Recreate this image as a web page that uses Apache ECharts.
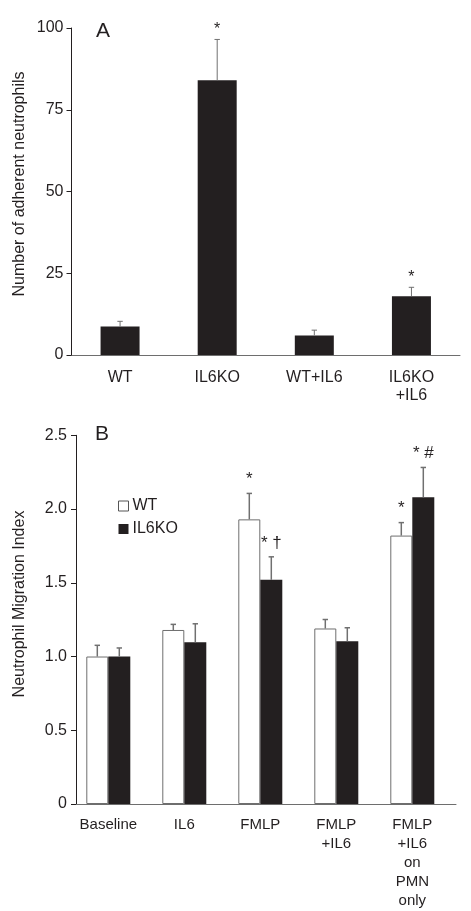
<!DOCTYPE html>
<html>
<head>
<meta charset="utf-8">
<script src="https://cdn.jsdelivr.net/npm/echarts@6/dist/echarts.min.js"></script>
<style>
html,body{margin:0;padding:0;background:#fff;}
#chart{width:471px;height:911px;}
</style>
</head>
<body>
<div id="chart"></div>
<script>
// ---------- Data ----------
const catA = ['WT', 'IL6KO', 'WT+IL6', 'IL6KO\n+IL6'];
const valA = [8.7, 84.0, 6.0, 18.0];
const errA = [1.6, 12.5, 1.6, 2.7];
const sigA = ['', '*', '', '*'];
const ticksA = [0, 25, 50, 75, 100];

const catB = ['Baseline', 'IL6', 'FMLP', 'FMLP\n+IL6', 'FMLP\n+IL6\non\nPMN\nonly'];
const wtB = [1.0, 1.18, 1.93, 1.19, 1.82];
const wtErrB = [0.076, 0.038, 0.176, 0.061, 0.088];
const koB = [1.0, 1.096, 1.52, 1.103, 2.08];
const koErrB = [0.058, 0.126, 0.156, 0.092, 0.202];
const wtSigB = ['', '', '*', '', '*'];
const koSigB = ['', '', '* \u2020', '', '* #'];
const ticksB = [0, 0.5, 1.0, 1.5, 2.0, 2.5];

// ---------- Styles ----------
const FONT = 'Liberation Sans, Arial, sans-serif';
const INK = '#231f20';
const AXIS = '#6e6e6e';
const ERR = '#707070';
const barWB = 22;

function errRender(sigs, offset, lw, sigOffset, sigSize) {
  return function (params, api) {
    const i = api.value(0), v = api.value(1), e = api.value(2);
    const s = sigs[params.dataIndex];
    const p0 = api.coord([i, v]);
    const p1 = api.coord([i, v + e]);
    const cx = p0[0] + offset;
    const children = [
      {type: 'line', shape: {x1: cx, y1: p0[1], x2: cx, y2: p1[1]}, style: {stroke: ERR, lineWidth: lw}},
      {type: 'line', shape: {x1: cx - 2.7, y1: p1[1], x2: cx + 2.7, y2: p1[1]}, style: {stroke: ERR, lineWidth: lw}}
    ];
    if (s) {
      children.push({type: 'text', x: cx, y: p1[1] - sigOffset,
        style: {text: s, fill: INK, font: sigSize + 'px ' + FONT, align: 'center', verticalAlign: 'middle'}});
    }
    return {type: 'group', children: children};
  };
}

const chart = echarts.init(document.getElementById('chart'), null, {renderer: 'canvas'});

const option = {
  backgroundColor: '#fff',
  animation: false,
  textStyle: {fontFamily: FONT, color: INK},
  grid: [
    {left: 71.5, width: 388.5, top: 28, height: 327},       // A
    {left: 70.3, width: 380, top: 435.3, height: 368.7},    // B bars
    {left: 76, width: 380, top: 435.3, height: 368.7}       // B axes
  ],
  xAxis: [
    {gridIndex: 0, type: 'category', data: catA,
      axisLine: {lineStyle: {color: AXIS, width: 1}}, axisTick: {show: false},
      axisLabel: {fontSize: 16, color: INK, lineHeight: 18, margin: 14, fontFamily: FONT}},
    {gridIndex: 1, type: 'category', data: catB,
      axisLine: {show: false}, axisTick: {show: false},
      axisLabel: {fontSize: 15, color: INK, lineHeight: 19, margin: 11, fontFamily: FONT, interval: 0}},
    {gridIndex: 2, type: 'category', data: catB,
      axisLine: {lineStyle: {color: AXIS, width: 1}}, axisTick: {show: false}, axisLabel: {show: false}}
  ],
  yAxis: [
    {gridIndex: 0, type: 'value', min: 0, max: 100, interval: 25,
      axisLine: {show: true, lineStyle: {color: INK, width: 1}},
      axisTick: {show: true, length: 5, lineStyle: {color: INK}},
      splitLine: {show: false},
      axisLabel: {fontSize: 16, color: INK, margin: 8, fontFamily: FONT,
        formatter: v => ticksA.indexOf(v) >= 0 ? String(v) : ''}},
    {gridIndex: 1, type: 'value', min: 0, max: 2.5, interval: 0.5, show: false, splitLine: {show: false}},
    {gridIndex: 2, type: 'value', min: 0, max: 2.5, interval: 0.5,
      axisLine: {show: true, lineStyle: {color: INK, width: 1}},
      axisTick: {show: true, length: 5, lineStyle: {color: INK}},
      splitLine: {show: false},
      axisLabel: {fontSize: 16, color: INK, margin: 9, fontFamily: FONT,
        formatter: v => v === 0 ? '0' : v.toFixed(1)}}
  ],
  legend: {
    orient: 'vertical', left: 118, top: 498, itemWidth: 10, itemHeight: 10, itemGap: 7,
    icon: 'rect', padding: 0,
    textStyle: {fontSize: 16, color: INK, fontFamily: FONT, padding: [0, 0, 0, -1]},
    data: [
      {name: 'WT', itemStyle: {color: '#fff', borderColor: '#555', borderWidth: 1}},
      {name: 'IL6KO', itemStyle: {color: INK}}
    ]
  },
  graphic: [
    {type: 'text', x: 103, y: 31, style: {text: 'A', font: '21px ' + FONT, fill: INK, align: 'center', verticalAlign: 'middle'}},
    {type: 'text', x: 102, y: 434, style: {text: 'B', font: '21px ' + FONT, fill: INK, align: 'center', verticalAlign: 'middle'}},
    {type: 'text', x: 20, y: 184, rotation: Math.PI / 2,
      style: {text: 'Number of adherent neutrophils', font: '16px ' + FONT, fill: INK, align: 'center', verticalAlign: 'middle'}},
    {type: 'text', x: 20, y: 604, rotation: Math.PI / 2,
      style: {text: 'Neutrophil Migration Index', font: '16px ' + FONT, fill: INK, align: 'center', verticalAlign: 'middle'}}
  ],
  series: [
    {name: 'A', type: 'bar', xAxisIndex: 0, yAxisIndex: 0, data: valA, barWidth: 39,
      itemStyle: {color: INK}},
    {name: 'A err', type: 'custom', xAxisIndex: 0, yAxisIndex: 0,
      renderItem: errRender(sigA, 0, 1, 10, 16),
      encode: {x: 0, y: 1},
      data: valA.map((v, i) => [i, v, errA[i]]), z: 3},
    {name: 'WT', type: 'bar', xAxisIndex: 1, yAxisIndex: 1, data: wtB, barWidth: barWB, barGap: '0%',
      itemStyle: {color: '#fff', borderColor: '#6e6e6e', borderWidth: 1}},
    {name: 'IL6KO', type: 'bar', xAxisIndex: 1, yAxisIndex: 1, data: koB, barWidth: barWB, barGap: '0%',
      itemStyle: {color: INK}},
    {name: 'WT err', type: 'custom', xAxisIndex: 1, yAxisIndex: 1,
      renderItem: errRender(wtSigB, -barWB / 2, 1.5, 14, 17),
      encode: {x: 0, y: 1},
      data: wtB.map((v, i) => [i, v, wtErrB[i]]), z: 3},
    {name: 'KO err', type: 'custom', xAxisIndex: 1, yAxisIndex: 1,
      renderItem: errRender(koSigB, barWB / 2, 1.5, 14, 17),
      encode: {x: 0, y: 1},
      data: koB.map((v, i) => [i, v, koErrB[i]]), z: 3}
  ]
};
chart.setOption(option);
</script>
</body>
</html>
